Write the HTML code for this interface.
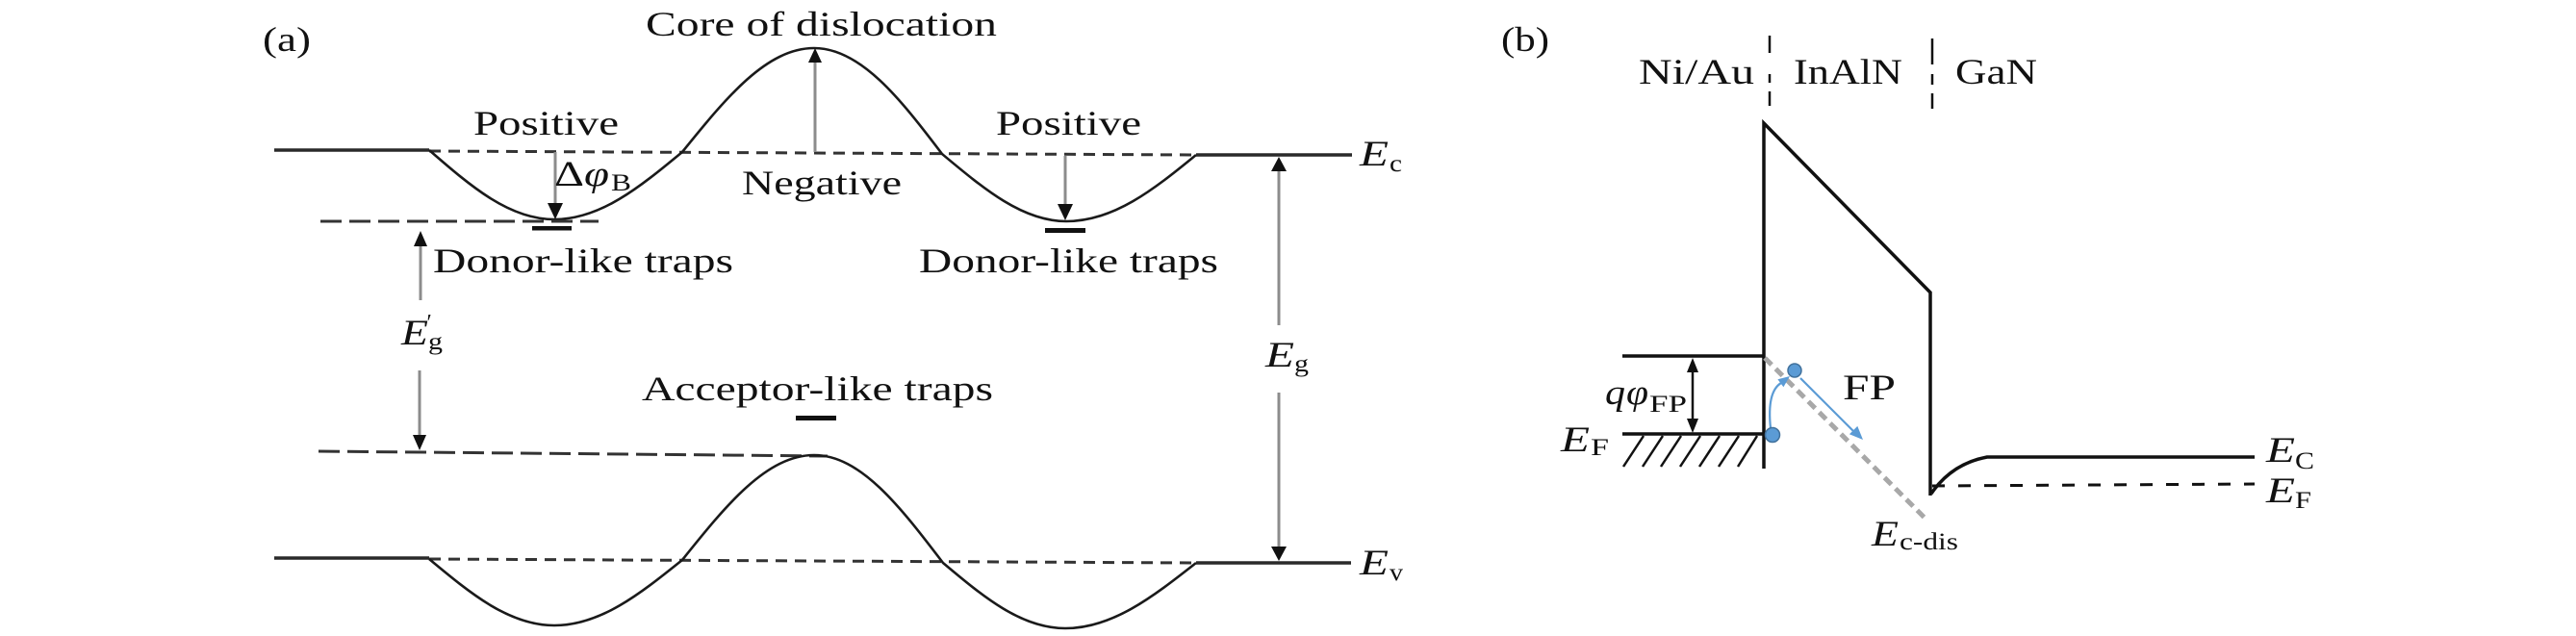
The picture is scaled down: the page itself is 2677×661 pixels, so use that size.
<!DOCTYPE html>
<html>
<head>
<meta charset="utf-8">
<style>
html,body{margin:0;padding:0;background:#fff;}
svg{display:block;}
text{font-family:"Liberation Serif","DejaVu Serif",serif;fill:#111;}
.it{font-style:italic;}
</style>
</head>
<body>
<svg width="2677" height="661" viewBox="0 0 2677 661" xmlns="http://www.w3.org/2000/svg">
<rect width="2677" height="661" fill="#fff"/>

<!-- ================= Panel (a) ================= -->
<!-- E_c level -->
<line x1="285" y1="156" x2="446" y2="156" stroke="#2a2a2a" stroke-width="3.5"/>
<line x1="446" y1="157" x2="1243" y2="161" stroke="#333" stroke-width="3" stroke-dasharray="12 8"/>
<line x1="1243" y1="161" x2="1405" y2="161" stroke="#2a2a2a" stroke-width="3.5"/>

<!-- upper band curve -->
<path d="M446,156 C489.5,193.8 529.2,228 576,228 C623.9,228 664.5,194.8 709,158 C754.8,101.3 796.7,50 846,50 C894.2,50 935.2,102.2 979,160 C1023.1,196.8 1062.6,230 1108,230 C1157.2,230 1198.2,197.7 1243,161" fill="none" stroke="#1a1a1a" stroke-width="2.6"/>

<!-- E_c' dashed -->
<line x1="333" y1="230" x2="622" y2="230" stroke="#333" stroke-width="3" stroke-dasharray="22 8"/>
<!-- trap bars -->
<rect x="553" y="235" width="41" height="4.5" fill="#111"/>
<rect x="1086" y="237" width="42" height="5" fill="#111"/>
<rect x="827" y="432" width="42" height="5" fill="#111"/>

<!-- E_v' dashed -->
<line x1="331" y1="469" x2="860" y2="474" stroke="#333" stroke-width="3" stroke-dasharray="22 8"/>

<!-- E_v level -->
<line x1="285" y1="580" x2="446" y2="580" stroke="#2a2a2a" stroke-width="3.5"/>
<line x1="446" y1="581" x2="1243" y2="585" stroke="#333" stroke-width="3" stroke-dasharray="12 8"/>
<line x1="1243" y1="585" x2="1404" y2="585" stroke="#2a2a2a" stroke-width="3.5"/>

<!-- lower band curve -->
<path d="M446,581 C489.5,617.2 529.2,650 576,650 C623.9,650 664.5,617.7 709,582 C754.8,524.8 796.7,473 846,473 C894.2,473 935.2,526.2 980,585 C1022.5,620.7 1061.3,653 1107,653 C1156,653 1197.5,620.7 1243,585" fill="none" stroke="#1a1a1a" stroke-width="2.6"/>

<!-- arrows (a) -->
<g stroke="#8c8c8c" stroke-width="3">
  <line x1="847" y1="158" x2="847" y2="63"/>
  <line x1="577" y1="158" x2="577" y2="212"/>
  <line x1="1107" y1="162" x2="1107" y2="213"/>
  <line x1="437" y1="255" x2="437" y2="312"/>
  <line x1="436" y1="385" x2="436" y2="452"/>
  <line x1="1329" y1="177" x2="1329" y2="338"/>
  <line x1="1329" y1="408" x2="1329" y2="569"/>
</g>
<g fill="#111">
  <polygon points="847,50 840,65 854,65"/>
  <polygon points="577,228 569,211 585,211"/>
  <polygon points="1107,229 1099,212 1115,212"/>
  <polygon points="437,240 430,256 444,256"/>
  <polygon points="436,468 429,452 443,452"/>
  <polygon points="1329,163 1321,178 1337,178"/>
  <polygon points="1329,583 1321,568 1337,568"/>
</g>

<!-- text (a) -->
<text x="273" y="53" font-size="36" textLength="50" lengthAdjust="spacingAndGlyphs">(a)</text>
<text x="671" y="37" font-size="36" textLength="365" lengthAdjust="spacingAndGlyphs">Core of dislocation</text>
<text x="492" y="140" font-size="36" textLength="151" lengthAdjust="spacingAndGlyphs">Positive</text>
<text x="1035" y="140" font-size="36" textLength="151" lengthAdjust="spacingAndGlyphs">Positive</text>
<text x="771" y="202" font-size="36" textLength="166" lengthAdjust="spacingAndGlyphs">Negative</text>
<text x="450" y="283" font-size="36" textLength="312" lengthAdjust="spacingAndGlyphs">Donor-like traps</text>
<text x="955" y="283" font-size="36" textLength="311" lengthAdjust="spacingAndGlyphs">Donor-like traps</text>
<text x="667" y="416" font-size="36" textLength="365" lengthAdjust="spacingAndGlyphs">Acceptor-like traps</text>

<!-- Δφ_B -->
<text x="576" y="193" font-size="37" textLength="31" lengthAdjust="spacingAndGlyphs">Δ</text>
<text x="607" y="193" font-size="37" class="it" textLength="26" lengthAdjust="spacingAndGlyphs">φ</text>
<text x="635" y="198" font-size="25" textLength="21" lengthAdjust="spacingAndGlyphs">B</text>

<!-- E_g' -->
<text x="417" y="358" font-size="37" class="it" textLength="28" lengthAdjust="spacingAndGlyphs">E</text>
<text x="445" y="363" font-size="25" textLength="15" lengthAdjust="spacingAndGlyphs">g</text>
<text x="442" y="343" font-size="24" class="it">′</text>

<!-- E_g -->
<text x="1315" y="381" font-size="37" class="it" textLength="30" lengthAdjust="spacingAndGlyphs">E</text>
<text x="1345" y="386" font-size="25" textLength="15" lengthAdjust="spacingAndGlyphs">g</text>

<!-- E_c, E_v -->
<text x="1413" y="172" font-size="37" class="it" textLength="30" lengthAdjust="spacingAndGlyphs">E</text>
<text x="1444" y="178" font-size="25" textLength="13" lengthAdjust="spacingAndGlyphs">c</text>
<text x="1413" y="597" font-size="37" class="it" textLength="30" lengthAdjust="spacingAndGlyphs">E</text>
<text x="1444" y="603" font-size="25" textLength="14" lengthAdjust="spacingAndGlyphs">v</text>

<!-- ================= Panel (b) ================= -->
<text x="1560" y="53" font-size="36" textLength="50" lengthAdjust="spacingAndGlyphs">(b)</text>
<text x="1703" y="87" font-size="37" textLength="120" lengthAdjust="spacingAndGlyphs">Ni/Au</text>
<text x="1864" y="87" font-size="37" textLength="113" lengthAdjust="spacingAndGlyphs">InAlN</text>
<text x="2032" y="87" font-size="37" textLength="85" lengthAdjust="spacingAndGlyphs">GaN</text>

<!-- vertical dashed separators -->
<g stroke="#111" stroke-width="2.5">
  <line x1="1839" y1="37" x2="1839" y2="55"/>
  <line x1="1839" y1="77" x2="1839" y2="86"/>
  <line x1="1839" y1="95" x2="1839" y2="110"/>
  <line x1="2008" y1="40" x2="2008" y2="67"/>
  <line x1="2008" y1="77" x2="2008" y2="88"/>
  <line x1="2008" y1="97" x2="2008" y2="113"/>
</g>

<!-- metal levels -->
<line x1="1686" y1="370" x2="1833" y2="370" stroke="#111" stroke-width="3.5"/>
<line x1="1686" y1="451" x2="1833" y2="451" stroke="#111" stroke-width="3.5"/>
<g stroke="#111" stroke-width="2.5">
  <line x1="1708" y1="453" x2="1687" y2="485"/>
  <line x1="1728" y1="453" x2="1707" y2="485"/>
  <line x1="1747" y1="453" x2="1726" y2="485"/>
  <line x1="1767" y1="453" x2="1746" y2="485"/>
  <line x1="1787" y1="453" x2="1766" y2="485"/>
  <line x1="1807" y1="453" x2="1786" y2="485"/>
  <line x1="1826" y1="453" x2="1806" y2="485"/>
</g>

<!-- InAlN barrier -->
<polyline points="1833,487 1833,128 2006,304 2006,515" fill="none" stroke="#111" stroke-width="3.5" stroke-linejoin="miter"/>

<!-- GaN band -->
<path d="M2007,513 Q2028,482 2065,475 L2343,475" fill="none" stroke="#111" stroke-width="3.5"/>
<line x1="2008" y1="505" x2="2343" y2="503" stroke="#111" stroke-width="3" stroke-dasharray="13 14"/>

<!-- E_c-dis gray dashed -->
<line x1="1834" y1="372" x2="2002" y2="540" stroke="#a8a8a8" stroke-width="5" stroke-dasharray="10 6"/>

<!-- qφ_FP double arrow -->
<line x1="1759" y1="384" x2="1759" y2="438" stroke="#111" stroke-width="2.5"/>
<polygon points="1759,372 1753,387 1765,387" fill="#111"/>
<polygon points="1759,450 1753,435 1765,435" fill="#111"/>

<!-- blue arrows -->
<path d="M1840,445 Q1836,407 1851,398" fill="none" stroke="#5b9bd5" stroke-width="2.2"/>
<polygon points="1860,391 1853.4,402.2 1847.4,394.2" fill="#5b9bd5"/>
<line x1="1871" y1="393" x2="1926" y2="448" stroke="#5b9bd5" stroke-width="2.2"/>
<polygon points="1936,457 1930.3,442.9 1921.9,451.3" fill="#5b9bd5"/>
<circle cx="1842" cy="452" r="7.5" fill="#5b9bd5" stroke="#41719c" stroke-width="1.5"/>
<circle cx="1865" cy="385" r="7" fill="#5b9bd5" stroke="#41719c" stroke-width="1.5"/>

<!-- labels (b) -->
<text x="1668" y="420" font-size="37" class="it" textLength="21" lengthAdjust="spacingAndGlyphs">q</text>
<text x="1690" y="420" font-size="37" class="it" textLength="23" lengthAdjust="spacingAndGlyphs">φ</text>
<text x="1714" y="428" font-size="25" textLength="39" lengthAdjust="spacingAndGlyphs">FP</text>

<text x="1622" y="469" font-size="37" class="it" textLength="30" lengthAdjust="spacingAndGlyphs">E</text>
<text x="1653" y="473" font-size="25" textLength="19" lengthAdjust="spacingAndGlyphs">F</text>

<text x="1915" y="415" font-size="37" textLength="55" lengthAdjust="spacingAndGlyphs">FP</text>

<text x="1945" y="567" font-size="37" class="it" textLength="28" lengthAdjust="spacingAndGlyphs">E</text>
<text x="1974" y="571" font-size="25" textLength="61" lengthAdjust="spacingAndGlyphs">c-dis</text>

<text x="2355" y="480" font-size="37" class="it" textLength="30" lengthAdjust="spacingAndGlyphs">E</text>
<text x="2385" y="487" font-size="25" textLength="20" lengthAdjust="spacingAndGlyphs">C</text>
<text x="2355" y="522" font-size="37" class="it" textLength="30" lengthAdjust="spacingAndGlyphs">E</text>
<text x="2385" y="528" font-size="25" textLength="17" lengthAdjust="spacingAndGlyphs">F</text>
</svg>
</body>
</html>
